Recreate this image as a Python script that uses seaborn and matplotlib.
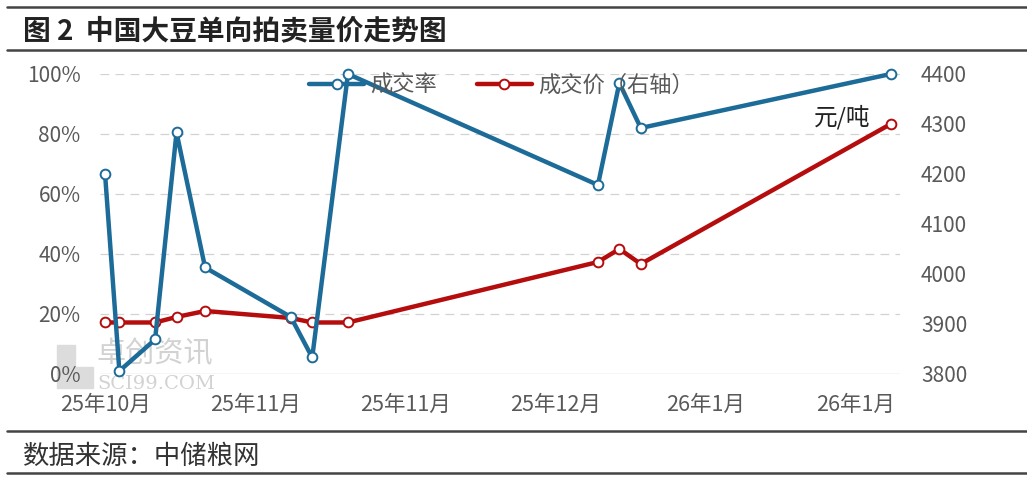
import matplotlib
matplotlib.use('Agg')
import matplotlib.pyplot as plt
import matplotlib.ticker as mticker
import pandas as pd
import seaborn as sns
from matplotlib.lines import Line2D
from matplotlib.patches import Rectangle

# 数据
dates = ['2025-10-14', '2025-10-16', '2025-10-21', '2025-10-24', '2025-10-28',
         '2025-11-09', '2025-11-12', '2025-11-17', '2025-12-22', '2025-12-25',
         '2025-12-28', '2026-02-01']
deal_rate = [66.5, 1.0, 11.5, 80.5, 35.5, 19.0, 5.5, 100.0, 63.0, 97.0, 82.0, 100.0]
deal_price = [3903, 3903, 3903, 3914, 3926, 3912, 3903, 3903, 4024, 4050, 4020, 4300]
tick_dates = ['2025-10-14', '2025-11-04', '2025-11-25', '2025-12-16', '2026-01-06', '2026-01-27']
tick_labels = ['25年10月', '25年11月', '25年11月', '25年12月', '26年1月', '26年1月']

BLUE = '#1c6b98'
RED = '#b50d0d'
GREY = '#595959'

sns.set_style('white')
plt.rcParams['font.family'] = ['Noto Sans CJK SC', 'DejaVu Sans']

df = pd.DataFrame({'日期': pd.to_datetime(dates), '成交率': deal_rate, '成交价': deal_price})

fig = plt.figure(figsize=(10.27, 4.82), dpi=100)
ax = fig.add_axes([0.0974, 0.2241, 0.779, 0.6224])
ax2 = ax.twinx()

# 网格线画在下层（右轴坐标系）
ax2.set_ylim(3800, 4400)
for v in range(20, 101, 20):
    ax2.axhline(3800 + v * 6, color='#d2d2d2', linewidth=0.9, linestyle=(0, (7, 5)), zorder=0)
ax2.axhline(3800, color='#d2d2d2', linewidth=1.0, zorder=0)

line_kw = dict(linewidth=3.2, marker='o', markersize=7, markerfacecolor='white',
               markeredgewidth=1.4, clip_on=False)
sns.lineplot(data=df, x='日期', y='成交价', ax=ax2, color=RED, markeredgecolor=RED, **line_kw)
sns.lineplot(data=df, x='日期', y='成交率', ax=ax, color=BLUE, markeredgecolor=BLUE, **line_kw)
ax.set_zorder(ax2.get_zorder() + 1)
ax.patch.set_visible(False)

# 坐标轴
x0 = pd.Timestamp(dates[0])
ax.set_xlim(x0 - pd.Timedelta(hours=17), x0 + pd.Timedelta(days=111.3))
ax.set_ylim(0, 100)
ax2.set_ylim(3800, 4400)
ax.set_yticks(range(0, 101, 20))
ax.yaxis.set_major_formatter(mticker.FuncFormatter(lambda v, p: f'{v:.0f}%'))
ax2.set_yticks(range(3800, 4401, 100))
ax.set_xticks(pd.to_datetime(tick_dates))
ax.set_xticklabels(tick_labels)
ax.set_xlabel(''); ax.set_ylabel(''); ax2.set_xlabel(''); ax2.set_ylabel('')

ax.tick_params(axis='y', length=0, pad=14, labelsize=15, labelcolor=GREY)
ax.tick_params(axis='x', length=0, pad=14, labelsize=15.5, labelcolor=GREY)
ax2.tick_params(axis='y', length=0, pad=15, labelsize=15, labelcolor=GREY)

for a in (ax, ax2):
    for s in a.spines.values():
        s.set_visible(False)

# 图例
handles = [Line2D([], [], color=BLUE, linewidth=3.2, marker='o', markersize=7,
                  markerfacecolor='white', markeredgecolor=BLUE, markeredgewidth=1.4),
           Line2D([], [], color=RED, linewidth=3.2, marker='o', markersize=7,
                  markerfacecolor='white', markeredgecolor=RED, markeredgewidth=1.4)]
fig.legend(handles, ['成交率', '成交价（右轴）'], loc='center', bbox_to_anchor=(0.488, 0.824),
           ncol=2, frameon=False, fontsize=16, handlelength=2.5, handletextpad=0.25,
           columnspacing=1.8, labelcolor=GREY)

fig.text(0.792, 0.757, '元/吨', fontsize=17, color='#222222', ha='left', va='center')

# 水印
for (xx, yy, w, h) in [(57, 345, 18, 43), (75, 367, 18, 21)]:
    fig.add_artist(Rectangle((xx / 1027, 1 - (yy + h) / 482), w / 1027, h / 482,
                             transform=fig.transFigure, color='#dcdcdc', zorder=0))
fig.text(0.094, 0.265, '卓创资讯', fontsize=21, color='#d2d2d2', ha='left', va='center', zorder=0)
fig.text(0.095, 0.203, 'SCI99.COM', fontsize=14, color='#d2d2d2', ha='left', va='center',
         family='DejaVu Serif', zorder=0)

# 标题与来源
fig.text(0.022, 0.935, '图 2  中国大豆单向拍卖量价走势图', fontsize=20, fontweight='bold',
         color='#222222', ha='left', va='center')
fig.text(0.022, 0.054, '数据来源：中储粮网', fontsize=19, color='#333333', ha='left', va='center')
for yy in (0.986, 0.896, 0.106, 0.018):
    fig.add_artist(Line2D([0.007, 1.0], [yy, yy], color='#444444', linewidth=1.8))

fig.savefig('out.png', dpi=100)
